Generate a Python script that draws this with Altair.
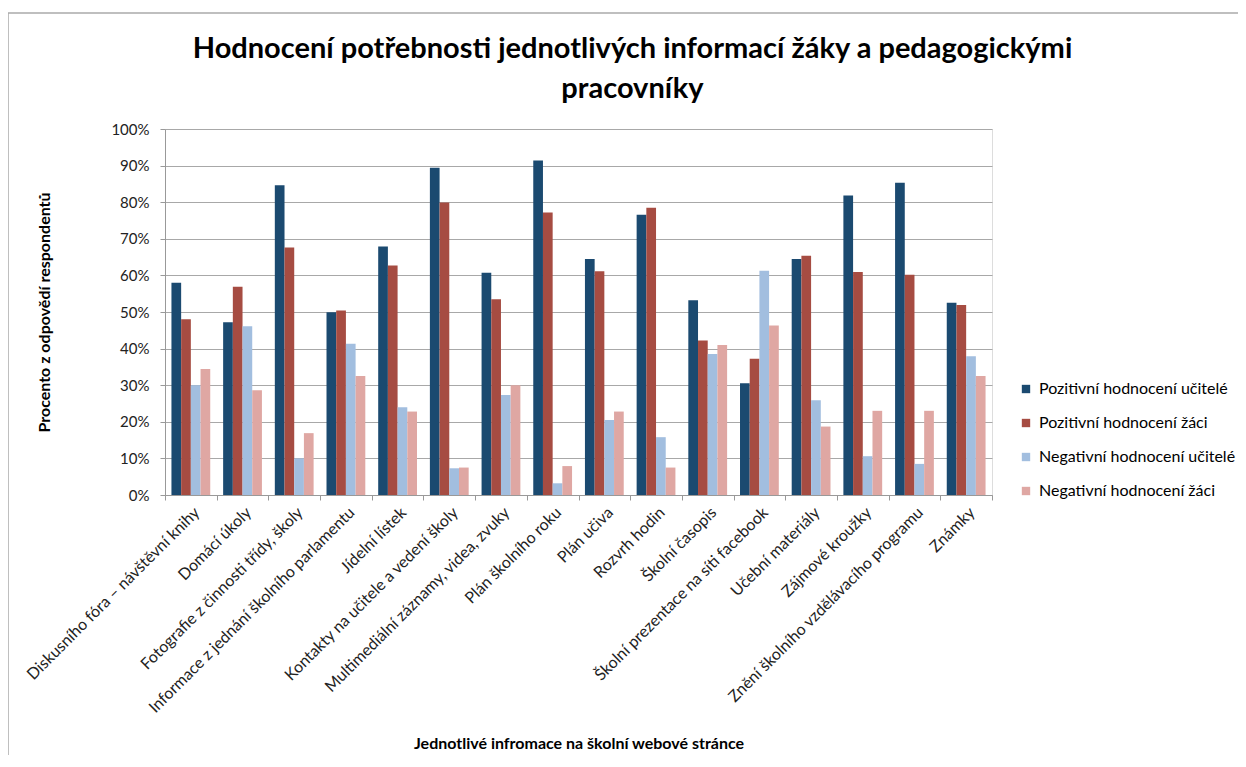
import altair as alt
import pandas as pd

categories = [
    "Diskusního fóra – návštěvní knihy",
    "Domácí úkoly",
    "Fotografie z činnosti třídy, školy",
    "Informace z jednání školního parlamentu",
    "Jídelní lístek",
    "Kontakty na učitele a vedení školy",
    "Multimediální záznamy, videa, zvuky",
    "Plán školního roku",
    "Plán učiva",
    "Rozvrh hodin",
    "Školní časopis",
    "Školní prezentace na síti facebook",
    "Učební materiály",
    "Zájmové kroužky",
    "Znění školního vzdělávacího programu",
    "Známky",
]
series = [
    "Pozitivní hodnocení učitelé",
    "Pozitivní hodnocení žáci",
    "Negativní hodnocení učitelé",
    "Negativní hodnocení žáci",
]
colors = ["#1B4A70", "#A64C42", "#A2BEDF", "#DFA7A3"]

poz_ucitele = [58.0, 47.2, 84.6, 49.9, 67.9, 89.4, 60.7, 91.4, 64.5, 76.6, 53.2, 30.5, 64.5, 81.8, 85.3, 52.5]
poz_zaci = [48.0, 56.9, 67.6, 50.4, 62.7, 79.9, 53.5, 77.2, 61.1, 78.5, 42.2, 37.2, 65.4, 60.9, 60.2, 51.9]
neg_ucitele = [30.0, 46.1, 10.0, 41.3, 24.0, 7.3, 27.3, 3.2, 20.5, 15.8, 38.5, 61.3, 25.9, 10.6, 8.5, 37.9]
neg_zaci = [34.4, 28.6, 16.9, 32.5, 22.8, 7.5, 30.0, 7.9, 22.8, 7.5, 41.0, 46.3, 18.7, 23.0, 23.0, 32.5]

y_ticks = list(range(0, 101, 10))

rows = []
for s, vals in zip(series, [poz_ucitele, poz_zaci, neg_ucitele, neg_zaci]):
    for c, v in zip(categories, vals):
        rows.append({"kat": c, "serie": s, "hodnota": v})
df = pd.DataFrame(rows)

FONT = "Lato"

bars = alt.Chart(df).mark_bar().encode(
    x=alt.X(
        "kat:N",
        sort=categories,
        scale=alt.Scale(paddingInner=0, paddingOuter=0),
        axis=alt.Axis(
            title="Jednotlivé infromace na školní webové stránce",
            titleFont=FONT, titleFontSize=16, titleFontWeight="bold", titleColor="#000",
            titlePadding=40,
            labelAngle=-45, labelAlign="right", labelBaseline="top",
            labelFont=FONT, labelFontSize=16, labelColor="#222", labelLimit=400,
            labelPadding=4,
            tickBand="extent", tickSize=5, tickColor="#999", domainColor="#999",
        ),
    ),
    xOffset=alt.XOffset("serie:N", sort=series,
                        scale=alt.Scale(paddingOuter=0.665, paddingInner=0)),
    y=alt.Y(
        "hodnota:Q",
        scale=alt.Scale(domain=[0, 100], nice=False),
        axis=alt.Axis(
            title="Procento z odpovědí respondentů",
            titleFont=FONT, titleFontSize=16, titleFontWeight="bold", titleColor="#000",
            titlePadding=58,
            values=y_ticks, labelExpr="datum.value + '%'",
            labelFont=FONT, labelFontSize=15, labelColor="#222",
            labelPadding=11,
            tickSize=5, tickColor="#999", domainColor="#999",
            grid=True, gridColor="#A8A8A8", gridWidth=1.2,
        ),
    ),
    color=alt.Color(
        "serie:N",
        sort=series,
        scale=alt.Scale(domain=series, range=colors),
        legend=alt.Legend(
            title=None, orient="none", legendX=853, legendY=252,
            symbolType="square", symbolSize=70, symbolStrokeWidth=0,
            labelFont=FONT, labelFontSize=16, labelColor="#000",
            rowPadding=18, labelOffset=5, labelLimit=400,
        ),
    ),
)

frame_df = pd.DataFrame({"f": [0]})
frame_left = alt.Chart(frame_df).mark_rule(color="#AAAAAA", strokeWidth=1.5).encode(
    x=alt.value(-157), y=alt.value(-116), y2=alt.value(700)
)
frame_top = alt.Chart(frame_df).mark_rule(color="#AAAAAA", strokeWidth=1.5).encode(
    x=alt.value(-157), x2=alt.value(1200), y=alt.value(-116)
)

chart = alt.layer(bars, frame_left, frame_top).properties(
    width=827,
    height=366,
    title=alt.TitleParams(
        text=["Hodnocení potřebnosti jednotlivých informací žáky a pedagogickými", "pracovníky"],
        font=FONT, fontSize=29, fontWeight="bold", color="#000",
        anchor="middle", frame="group", dx=54, lineHeight=40, offset=-92,
    ),
    autosize=alt.AutoSizeParams(type="none"),
    padding={"left": 157, "top": 121, "right": 246, "bottom": 260},
).configure_view(stroke=None).configure(background="white")

chart.save("out.html", embed_options={"renderer": "svg", "actions": False})
